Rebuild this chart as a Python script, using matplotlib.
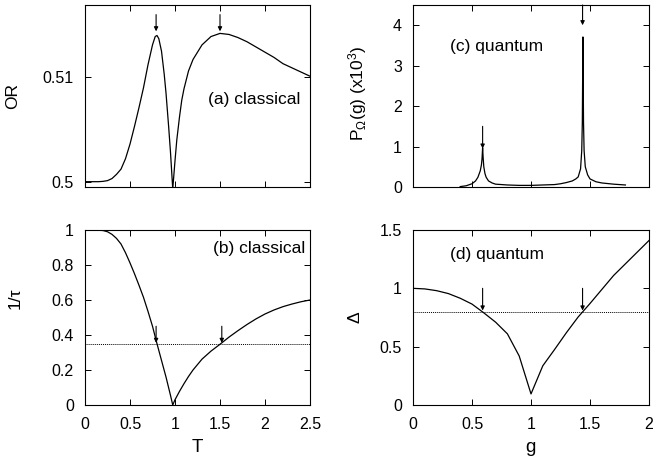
import matplotlib
matplotlib.use('Agg')
import matplotlib.pyplot as plt

plt.rcParams['font.family'] = ['Liberation Sans', 'DejaVu Sans']
plt.rcParams['font.size'] = 11.5
plt.rcParams['mathtext.fontset'] = 'custom'
plt.rcParams['mathtext.rm'] = 'Liberation Sans'
plt.rcParams['mathtext.default'] = 'regular'

# (a) classical order parameter vs T
T_a = [0, 0.1, 0.15, 0.2, 0.25, 0.3, 0.35, 0.4, 0.45, 0.5, 0.55, 0.6, 0.65, 0.7,
       0.75, 0.78, 0.8, 0.82, 0.85, 0.88, 0.9, 0.93, 0.95, 0.975,
       1.0, 1.02, 1.05, 1.075, 1.1, 1.15, 1.2, 1.3, 1.4, 1.5, 1.6, 1.7, 1.8,
       1.9, 2.0, 2.1, 2.2, 2.3, 2.4, 2.5]
OR_a = [0.5, 0.5, 0.5, 0.50003, 0.5001, 0.5003, 0.5007, 0.5012, 0.5022, 0.5036,
        0.5053, 0.5071, 0.509, 0.5112, 0.5131, 0.5139, 0.514, 0.5137, 0.5125,
        0.5103, 0.5085, 0.5052, 0.5028, 0.4993,
        0.502, 0.504, 0.5062, 0.5078, 0.5089, 0.5106, 0.5117, 0.5131, 0.5139,
        0.5142, 0.5141, 0.5138, 0.5134, 0.5129, 0.5124, 0.5119, 0.5113, 0.5109,
        0.5105, 0.5101]
arrows_a = [0.79, 1.5]

# (b) classical inverse relaxation time vs T
T_b = [0, 0.1, 0.2, 0.25, 0.3, 0.35, 0.4, 0.45, 0.5, 0.55, 0.6, 0.65, 0.7, 0.75,
       0.8, 0.85, 0.9, 0.95, 0.975, 1.0, 1.05, 1.1, 1.15, 1.2, 1.3, 1.4, 1.5,
       1.6, 1.7, 1.8, 1.9, 2.0, 2.1, 2.2, 2.3, 2.4, 2.5]
inv_tau = [1.0, 1.0, 0.997, 0.99, 0.975, 0.952, 0.92, 0.87, 0.812, 0.75, 0.684,
           0.615, 0.535, 0.45, 0.35, 0.255, 0.16, 0.055, 0.0, 0.03, 0.078, 0.122,
           0.163, 0.2, 0.262, 0.308, 0.347, 0.388, 0.425, 0.46, 0.492, 0.52,
           0.543, 0.562, 0.577, 0.59, 0.6]
level_b = 0.347
arrows_b = [0.79, 1.52]

# (c) quantum distribution P_Omega(g)
g_c = [0.4, 0.45, 0.5, 0.53, 0.55, 0.57, 0.58, 0.585, 0.59, 0.595, 0.6, 0.61,
       0.62, 0.64, 0.67, 0.7, 0.8, 0.9, 1.0, 1.1, 1.2, 1.25, 1.3, 1.35, 1.38,
       1.4, 1.42, 1.43, 1.435, 1.44, 1.445, 1.45, 1.46, 1.48, 1.5, 1.55, 1.6,
       1.7, 1.8]
P_c = [0.01, 0.03, 0.08, 0.15, 0.24, 0.4, 0.55, 0.7, 0.97, 0.7, 0.5, 0.33, 0.24,
       0.15, 0.1, 0.07, 0.05, 0.04, 0.04, 0.05, 0.06, 0.08, 0.11, 0.15, 0.2,
       0.25, 0.45, 0.9, 1.6, 3.71, 1.6, 0.9, 0.5, 0.3, 0.2, 0.13, 0.1, 0.07, 0.05]
arrows_c = [(0.59, 1.5, 0.95), (1.437, 4.5, 4.0)]

# (d) quantum gap vs g
g_d = [0, 0.1, 0.2, 0.3, 0.4, 0.5, 0.6, 0.7, 0.8, 0.9, 1.0, 1.1, 1.2, 1.3,
       1.4, 1.5, 1.6, 1.7, 1.8, 1.9, 2.0]
gap = [1.0, 0.995, 0.98, 0.955, 0.915, 0.865, 0.79, 0.71, 0.61, 0.42, 0.095,
       0.336, 0.476, 0.62, 0.755, 0.87, 0.99, 1.11, 1.21, 1.31, 1.41]
level_d = 0.8
arrows_d = [0.59, 1.437]

fig = plt.figure(figsize=(6.54, 4.59), dpi=100)
L1, W1 = 85 / 654, (310 - 85) / 654
L2, W2 = 413 / 654, (649 - 413) / 654
top_b, h_top = 1 - 187 / 459, (187 - 5) / 459
bot_b, h_bot = 1 - 405 / 459, (405 - 230) / 459
ax_a = fig.add_axes([L1, top_b, W1, h_top])
ax_b = fig.add_axes([L1, bot_b, W1, h_bot])
ax_c = fig.add_axes([L2, top_b, W2, h_top])
ax_d = fig.add_axes([L2, bot_b, W2, h_bot])

for ax in (ax_a, ax_b, ax_c, ax_d):
    ax.tick_params(direction='in', top=True, right=True, length=4, width=0.7)
    ax.tick_params(axis='x', pad=8.5)
    ax.tick_params(axis='y', pad=8)
    for s in ax.spines.values():
        s.set_linewidth(0.8)

def arrow(ax, x, y0, y1):
    ax.annotate('', xy=(x, y1), xytext=(x, y0),
                arrowprops=dict(arrowstyle='-|>', lw=0.8, color='k',
                                mutation_scale=6, shrinkA=0, shrinkB=0))

lab_fs = 12.5

# (a)
ax_a.plot(T_a, OR_a, color='k', lw=0.9)
ax_a.set_xlim(0, 2.5)
ax_a.set_ylim(0.49949, 0.51692)
ax_a.set_xticks([0, 0.5, 1, 1.5, 2, 2.5])
ax_a.set_xticklabels([])
ax_a.set_yticks([0.5, 0.51])
ax_a.set_yticklabels(['0.5', '0.51'])
for x in arrows_a:
    arrow(ax_a, x, 0.5160, 0.5144)
ax_a.text(0.959, 0.48, '(a) classical', transform=ax_a.transAxes, ha='right',
          va='center', fontsize=lab_fs)
fig.text(13 / 654, 1 - 96 / 459, 'OR', rotation=90, ha='center', va='center',
         fontsize=lab_fs)

# (b)
ax_b.plot(T_b, inv_tau, color='k', lw=0.9)
ax_b.axhline(level_b, color='k', lw=0.7, ls=(0, (1, 1)))
for x in arrows_b:
    arrow(ax_b, x, 0.45, 0.355)
ax_b.set_xlim(0, 2.5)
ax_b.set_ylim(0, 1)
ax_b.set_xticks([0, 0.5, 1, 1.5, 2, 2.5])
ax_b.set_xticklabels(['0', '0.5', '1', '1.5', '2', '2.5'])
ax_b.set_yticks([0, 0.2, 0.4, 0.6, 0.8, 1])
ax_b.set_yticklabels(['0', '0.2', '0.4', '0.6', '0.8', '1'])
ax_b.text(0.978, 0.897, '(b) classical', transform=ax_b.transAxes, ha='right',
          va='center', fontsize=lab_fs)
fig.text(15 / 654, 1 - 298 / 459, '1/τ', rotation=90, ha='center', va='center',
         fontsize=lab_fs)
fig.text(197 / 654, 1 - 447 / 459, 'T', ha='center', va='center', fontsize=13.5)

# (c)
ax_c.plot(g_c, P_c, color='k', lw=0.9)
for x, y0, y1 in arrows_c:
    arrow(ax_c, x, y0, y1)
ax_c.set_xlim(0, 2)
ax_c.set_ylim(0, 4.5)
ax_c.set_xticks([0, 0.5, 1, 1.5, 2])
ax_c.set_xticklabels([])
ax_c.set_yticks([0, 1, 2, 3, 4])
ax_c.set_yticklabels(['0', '1', '2', '3', '4'])
ax_c.text(0.157, 0.77, '(c) quantum', transform=ax_c.transAxes, ha='left',
          va='center', fontsize=lab_fs)
fig.text(358 / 654, 1 - 93 / 459, r'P$_\Omega$(g) (x10$^3$)', rotation=90,
         ha='center', va='center', fontsize=lab_fs)

# (d)
ax_d.plot(g_d, gap, color='k', lw=0.9)
ax_d.axhline(level_d, color='k', lw=0.7, ls=(0, (1, 1)))
for x in arrows_d:
    arrow(ax_d, x, 1.0, 0.81)
ax_d.set_xlim(0, 2)
ax_d.set_ylim(0, 1.5)
ax_d.set_xticks([0, 0.5, 1, 1.5, 2])
ax_d.set_xticklabels(['0', '0.5', '1', '1.5', '2'])
ax_d.set_yticks([0, 0.5, 1, 1.5])
ax_d.set_yticklabels(['0', '0.5', '1', '1.5'])
ax_d.text(0.157, 0.862, '(d) quantum', transform=ax_d.transAxes, ha='left',
          va='center', fontsize=lab_fs)
fig.text(355 / 654, 1 - 317 / 459, 'Δ', rotation=90, ha='center', va='center',
         fontsize=lab_fs)
fig.text(530 / 654, 1 - 448 / 459, 'g', ha='center', va='center', fontsize=13.5)

fig.savefig('out.png', dpi=100)
